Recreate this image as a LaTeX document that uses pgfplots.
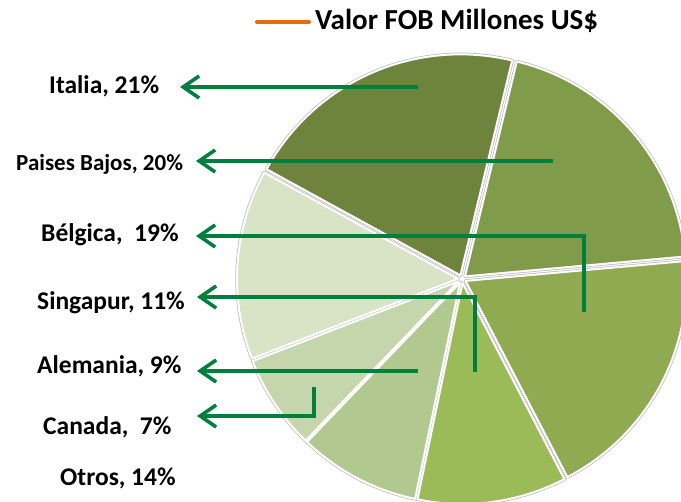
\documentclass[border=0pt]{standalone}
\usepackage{pgfplots}
\pgfplotsset{compat=1.18}
\usepackage{pgfplotstable}
\usepackage{fontspec}
\setmainfont{Carlito}
\usetikzlibrary{arrows.meta}

\definecolor{cIta}{HTML}{6E843C}
\definecolor{cPB}{HTML}{809B4A}
\definecolor{cBel}{HTML}{8FAA51}
\definecolor{cSin}{HTML}{9BBB59}
\definecolor{cAle}{HTML}{B1C98F}
\definecolor{cCan}{HTML}{C6D6AC}
\definecolor{cOtr}{HTML}{D9E3C6}
\definecolor{arrowgreen}{HTML}{00803C}
\definecolor{legorange}{HTML}{E46C0A}

% share of FOB value, clockwise
\pgfplotstableread{
pais pct col
Italia 21 cIta
PaisesBajos 20 cPB
Belgica 19 cBel
Singapur 11 cSin
Alemania 9 cAle
Canada 7 cCan
Otros 14 cOtr
}\piedata

% centre, radius, explode, total (image units)
\def\pcx{462}\def\pcy{279}\def\prad{221}\def\pexp{4}\def\ptotal{101}

\newcommand{\pieslices}[1]{%
  \xdef\curang{-61.3}%
  \pgfplotsforeachungrouped \i in {0,...,6}{%
    \pgfplotstablegetelem{\i}{pct}\of\piedata \let\pct\pgfplotsretval
    \pgfplotstablegetelem{\i}{col}\of\piedata \let\col\pgfplotsretval
    \pgfmathsetmacro{\angA}{\curang}%
    \pgfmathsetmacro{\angB}{\curang+\pct*360/\ptotal}%
    \pgfmathsetmacro{\angM}{(\angA+\angB)/2}%
    \pgfmathsetmacro{\ox}{\pcx+\pexp*sin(\angM)}%
    \pgfmathsetmacro{\oy}{\pcy-\pexp*cos(\angM)}%
    \ifnum#1=0
      \edef\doslice{\noexpand\addplot[draw=black!28, line width=3.4pt, line join=round, domain=\angA:\angB, samples=72, variable=\noexpand\t]
        ({\ox+\prad*sin(\noexpand\t)},{\oy-\prad*cos(\noexpand\t)}) -- (axis cs:\ox,\oy) -- cycle;}%
    \else
      \edef\doslice{\noexpand\addplot[fill=\col, draw=white, line width=2pt, line join=round, domain=\angA:\angB, samples=72, variable=\noexpand\t]
        ({\ox+\prad*sin(\noexpand\t)},{\oy-\prad*cos(\noexpand\t)}) -- (axis cs:\ox,\oy) -- cycle;}%
    \fi
    \doslice
    \xdef\curang{\angB}%
  }%
}

\pgfplotsset{arr/.style={color=arrowgreen, line width=3.8pt, no markers,
  -{Straight Barb[length=16pt, width=22pt, line width=3.6pt]}}}

\begin{document}
\begin{tikzpicture}[
  lab/.style={font=\bfseries\fontsize{25.5}{28}\selectfont, inner sep=0pt, anchor=base west}]
\begin{axis}[name=ax, width=681pt, height=502pt, scale only axis,
  xmin=0, xmax=681, ymin=0, ymax=502, y dir=reverse, hide axis, clip=true]
\pieslices{0}
\pieslices{1}

% legend
\addplot[legorange, line width=4pt, line cap=round, no markers] coordinates {(257,22) (309,22)};
\node[font=\bfseries\fontsize{29}{30}\selectfont, inner sep=0pt, anchor=base west] at (axis cs:315,29.5) {Valor FOB Millones US\$};

% arrows
\addplot[arr] coordinates {(418,87) (180,87)};
\addplot[arr] coordinates {(553,161) (196,161)};
\addplot[arr] coordinates {(584,312) (584,236) (196,236)};
\addplot[arr] coordinates {(475,372) (475,297) (197,297)};
\addplot[arr] coordinates {(418,371) (197,371)};
\addplot[arr] coordinates {(314,387) (314,416) (197,416)};

% labels
\node[lab] at (axis cs:49,94) {Italia, 21\%};
\node[lab, font=\bfseries\fontsize{23}{26}\selectfont] at (axis cs:16,171) {Paises Bajos, 20\%};
\node[lab] at (axis cs:41,242) {Bélgica,~ 19\%};
\node[lab] at (axis cs:37,310) {Singapur, 11\%};
\node[lab] at (axis cs:37,374) {Alemania, 9\%};
\node[lab] at (axis cs:43,435) {Canada,~ 7\%};
\node[lab] at (axis cs:60,486) {Otros, 14\%};
\end{axis}
\pgfresetboundingbox
\path (ax.south west) rectangle (ax.north east);
\end{tikzpicture}
\end{document}
